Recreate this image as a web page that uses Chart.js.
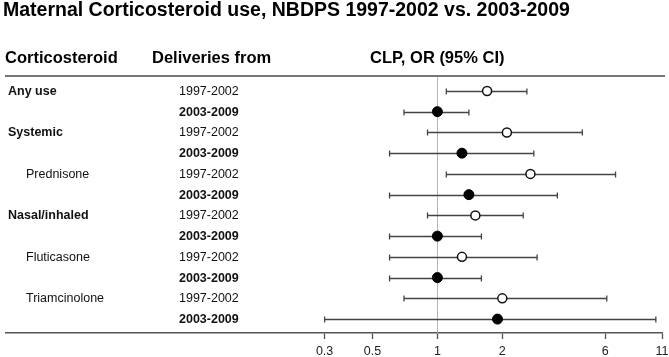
<!DOCTYPE html>
<html>
<head>
<meta charset="utf-8">
<script src="https://cdn.jsdelivr.net/npm/chart.js@4/dist/chart.umd.min.js"></script>
<style>
  body { margin: 0; background: #fff; }
</style>
</head>
<body>
<canvas id="forest" width="669" height="357"></canvas>
<script>
// data
const groups = ['Any use', 'Systemic', 'Prednisone', 'Nasal/inhaled', 'Fluticasone', 'Triamcinolone'];
const subtypes = ['Prednisone', 'Fluticasone', 'Triamcinolone'];
const periods = ['1997-2002', '2003-2009'];

const or9702 = [1.7, 2.1, 2.7, 1.5, 1.3, 2.0];
const lo9702 = [1.1, 0.9, 1.1, 0.9, 0.6, 0.7];
const hi9702 = [2.6, 4.7, 6.7, 2.5, 2.9, 6.1];

const or0309 = [1.0, 1.3, 1.4, 1.0, 1.0, 1.9];
const lo0309 = [0.7, 0.6, 0.6, 0.6, 0.6, 0.3];
const hi0309 = [1.4, 2.8, 3.6, 1.6, 1.6, 10.3];

const xTicks = [0.3, 0.5, 1, 2, 6, 11];

const FONT = 'Arial, "Liberation Sans", sans-serif';

// one row per group/period, in table order
const rows = [];
groups.forEach((g, i) => {
    rows.push({ group: g, period: periods[0], row: i * 2, or: or9702[i], lo: lo9702[i], hi: hi9702[i] });
    rows.push({ group: null, period: periods[1], row: i * 2 + 1, or: or0309[i], lo: lo0309[i], hi: hi0309[i] });
});

function line(ctx, x1, y1, x2, y2) {
    ctx.beginPath();
    ctx.moveTo(x1, y1);
    ctx.lineTo(x2, y2);
    ctx.stroke();
}

const forestPlugin = {
    id: 'forest',
    beforeDatasetsDraw(chart) {
        const ctx = chart.ctx;
        const xs = chart.scales.x, ys = chart.scales.y, area = chart.chartArea;
        ctx.save();

        // reference line at OR = 1
        ctx.strokeStyle = '#b4b4b4';
        ctx.lineWidth = 1;
        const x1 = Math.round(xs.getPixelForValue(1)) + 0.5;
        line(ctx, x1, area.top, x1, area.bottom);

        // confidence intervals
        ctx.strokeStyle = '#444';
        ctx.lineWidth = 1.3;
        rows.forEach(r => {
            const y = Math.round(ys.getPixelForValue(r.row)) + 0.5;
            const a = xs.getPixelForValue(r.lo);
            const b = xs.getPixelForValue(r.hi);
            line(ctx, a, y, b, y);
            line(ctx, a, y - 3, a, y + 3);
            line(ctx, b, y - 3, b, y + 3);
        });
        ctx.restore();
    },
    afterDraw(chart) {
        const ctx = chart.ctx;
        const ys = chart.scales.y;
        ctx.save();

        // title
        ctx.fillStyle = '#000';
        ctx.textBaseline = 'middle';
        ctx.font = 'bold 19.5px ' + FONT;
        ctx.fillText('Maternal Corticosteroid use, NBDPS 1997-2002 vs. 2003-2009', 3, 11);

        // column headers
        ctx.font = 'bold 16.5px ' + FONT;
        ctx.fillText('Corticosteroid', 5, 58);
        ctx.fillText('Deliveries from', 152, 58);
        ctx.fillText('CLP, OR (95% CI)', 370, 58);

        // table rules
        ctx.strokeStyle = '#777';
        ctx.lineWidth = 2;
        line(ctx, 5, 76, 665, 76);

        // row labels
        ctx.fillStyle = '#111';
        rows.forEach(r => {
            const y = ys.getPixelForValue(r.row) + 0.5;
            if (r.group) {
                const sub = subtypes.includes(r.group);
                ctx.font = (sub ? '' : 'bold ') + '12.5px ' + FONT;
                ctx.fillText(r.group, sub ? 26 : 8, y);
            }
            ctx.font = (r.period === periods[1] ? 'bold ' : '') + '12.5px ' + FONT;
            ctx.fillText(r.period, 179, y);
        });
        ctx.restore();
    }
};

new Chart(document.getElementById('forest'), {
    type: 'scatter',
    data: {
        datasets: [
            {
                label: periods[0],
                data: rows.filter(r => r.period === periods[0]).map(r => ({ x: r.or, y: r.row })),
                pointRadius: 4.5,
                pointBorderWidth: 1.5,
                backgroundColor: '#fff',
                borderColor: '#111',
                clip: false
            },
            {
                label: periods[1],
                data: rows.filter(r => r.period === periods[1]).map(r => ({ x: r.or, y: r.row })),
                pointRadius: 5,
                pointBorderWidth: 1,
                backgroundColor: '#000',
                borderColor: '#000',
                clip: false
            }
        ]
    },
    options: {
        responsive: false,
        animation: false,
        devicePixelRatio: 1,
        layout: { padding: { top: 76, left: 5, right: 7, bottom: 0 } },
        plugins: {
            legend: { display: false },
            tooltip: { enabled: false }
        },
        scales: {
            x: {
                type: 'logarithmic',
                min: 0.01,
                max: 11,
                afterBuildTicks: s => { s.ticks = xTicks.map(v => ({ value: v })); },
                afterFit: s => {
                    s.height = 24;
                    s.paddingLeft = 0;
                    s.paddingRight = 0;
                },
                border: { color: '#555', width: 1.5 },
                grid: { drawOnChartArea: false, tickLength: 6, color: '#555', tickWidth: 1.3 },
                ticks: {
                    color: '#222',
                    font: { family: FONT, size: 12.5 },
                    padding: 5,
                    maxRotation: 0,
                    autoSkip: false,
                    callback: v => String(v)
                }
            },
            y: {
                type: 'linear',
                reverse: true,
                min: -0.72,
                max: 11.67,
                display: false
            }
        }
    },
    plugins: [forestPlugin]
});
</script>
</body>
</html>
